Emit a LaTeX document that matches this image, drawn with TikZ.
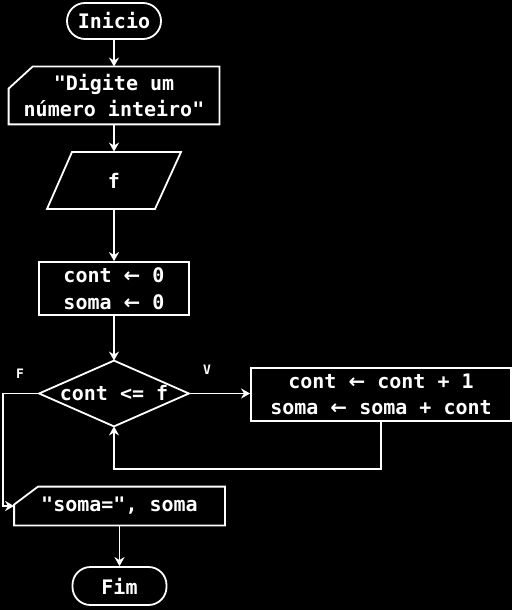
\documentclass[tikz,border=0pt]{standalone}
\usepackage{fontspec}
\setmonofont{DejaVu Sans Mono}
\newfontfamily\flechafont{DejaVu Sans}
\newcommand{\atrib}{{\flechafont\bfseries ←}}
\usetikzlibrary{arrows.meta, positioning, shapes.geometric, calc}

\begin{document}
\begin{tikzpicture}[x=0.5pt, y=-0.5pt,
                every node/.style={font=\fontsize{10}{13.3}\selectfont\ttfamily\bfseries, text=white, align=center, inner sep=0pt},
                linha/.style={draw=white, line width=0.9pt},
                seta/.style={draw=white, line width=0.9pt, -{Stealth[length=4.5pt, width=5pt]}},
                terminal/.style={linha, rounded corners=9pt, minimum width=47pt, minimum height=18pt},
                caixa/.style={linha, minimum width=75pt, minimum height=26.5pt},
                rotulo/.style={font=\fontsize{6.5}{8}\selectfont\ttfamily\bfseries}]

                % fundo
                \fill[black] (0,0) rectangle (512,610);
                \useasboundingbox (0,0) rectangle (512,610);

                % Blocos
                \node[terminal] (inicio) at (114,21) {Inicio};
                \node[minimum width=105pt, minimum height=28.5pt] (msg) at (114,95.5) {"Digite um\\número inteiro"};
                \draw[linha] ([xshift=12pt]msg.north west) -- (msg.north east) -- (msg.south east)
                    -- (msg.south west) -- ([yshift=-11pt]msg.north west) -- cycle;
                \node[minimum width=54.5pt, minimum height=28.5pt] (leitura) at (114,180.5) {f};
                \draw[linha] (72,152) -- (181,152) -- (155,209) -- (47,209) -- cycle;
                \node[caixa] (init) at (114,288.5) {cont \atrib{} 0\\soma \atrib{} 0};
                \node[minimum width=74.5pt, minimum height=32.5pt] (cond) at (114,393.5) {cont <= f};
                \draw[linha] (cond.north) -- (cond.east) -- (cond.south) -- (cond.west) -- cycle;
                \node[caixa, minimum width=130pt] (corpo) at (381,394.5) {cont \atrib{} cont + 1\\soma \atrib{} soma + cont};
                \node[minimum width=105pt, minimum height=19pt] (saida) at (119.5,506) {"soma=", soma};
                \draw[linha] ([xshift=12pt]saida.north west) -- (saida.north east) -- (saida.south east)
                    -- (saida.south west) -- ([yshift=-9pt]saida.north west) -- cycle;
                \node[terminal, minimum height=19pt] (fim) at (119.5,586) {Fim};

                % Rotulos
                \node[rotulo] (falso) at (20,374) {F};
                \node[rotulo] (verdade) at (207,370) {V};

                % Pontos de desvio
                \coordinate (volta) at (114,469);
                \coordinate (desvio) at (3,393.5);

                % Conexoes
                \draw[seta] (inicio) -- (msg);
                \draw[seta] (msg) -- (leitura);
                \draw[seta] (leitura) -- (init);
                \draw[seta] (init) -- (cond);
                \draw[seta] (cond.east) -- (cond.east -| corpo.west);
                \draw[seta] (corpo.south) |- (volta) -- (cond.south);
                \draw[seta] (cond.west) -- (desvio) |- (saida.west);
                \draw[seta] (saida) -- (fim);
            \end{tikzpicture}
\end{document}
